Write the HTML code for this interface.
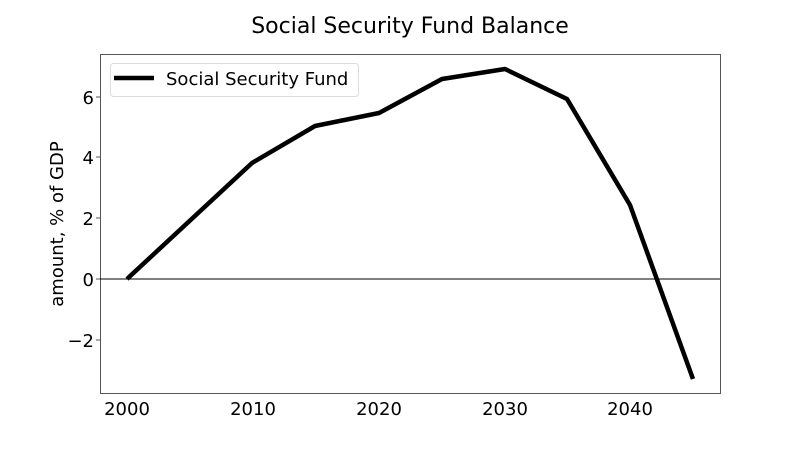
<!DOCTYPE html>
<html><head><style>body{margin:0;background:#fff}</style></head><body>
<svg width="800" height="450" xmlns="http://www.w3.org/2000/svg" font-family="DejaVu Sans, sans-serif">
<rect width="800" height="450" fill="#fff"/>
<text x="410" y="33" font-size="22" text-anchor="middle">Social Security Fund Balance</text>
<rect x="100.5" y="54.5" width="620" height="339" fill="none" stroke="#555" stroke-width="1"/>
<line x1="100" y1="279" x2="720" y2="279" stroke="#000" stroke-width="1"/>
<g font-size="18" text-anchor="end">
<line x1="96" y1="97" x2="100" y2="97" stroke="#555"/><text x="94" y="104">6</text>
<line x1="96" y1="157" x2="100" y2="157" stroke="#555"/><text x="94" y="164">4</text>
<line x1="96" y1="218" x2="100" y2="218" stroke="#555"/><text x="94" y="225">2</text>
<line x1="96" y1="279" x2="100" y2="279" stroke="#555"/><text x="94" y="286">0</text>
<line x1="96" y1="340" x2="100" y2="340" stroke="#555"/><text x="94" y="347">−2</text>
</g>
<g font-size="18" text-anchor="middle">
<text x="127" y="415">2000</text><text x="253" y="415">2010</text><text x="379" y="415">2020</text><text x="505" y="415">2030</text><text x="630" y="415">2040</text>
</g>
<text transform="translate(63,224) rotate(-90)" font-size="18" text-anchor="middle">amount, % of GDP</text>
<polyline fill="none" stroke="#000" stroke-width="4.5" stroke-linejoin="round" points="127,279 252,163 315,126 379,113 442,79 505,69 567,99 630,205 693,379"/>
<rect x="110.5" y="63.5" width="248" height="33" rx="3" fill="#fff" stroke="#ddd"/>
<line x1="114" y1="78" x2="154" y2="78" stroke="#000" stroke-width="4.5"/>
<text x="166" y="85" font-size="18">Social Security Fund</text>
</svg>
</body></html>
